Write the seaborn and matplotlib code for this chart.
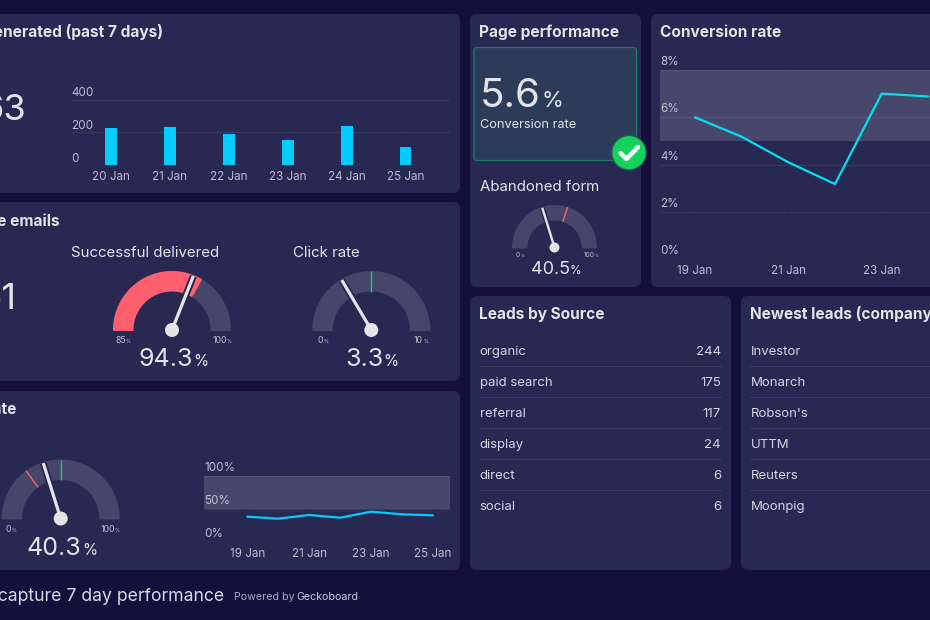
import numpy as np
import pandas as pd
import matplotlib
matplotlib.use("Agg")
import matplotlib.pyplot as plt
from matplotlib.patches import FancyBboxPatch, Circle
import seaborn as sns

# ---- data ----
lead_days = ["20 Jan", "21 Jan", "22 Jan", "23 Jan", "24 Jan", "25 Jan"]
lead_counts = [229, 235, 189, 153, 238, 112]

conv_days = ["19 Jan", "20 Jan", "21 Jan", "22 Jan", "23 Jan", "24 Jan"]
conv_values = [6.0, 5.18, 4.1, 3.18, 7.0, 6.88]

open_days = ["19 Jan", "20 Jan", "21 Jan", "22 Jan", "23 Jan", "24 Jan", "25 Jan"]
open_values = [38.8, 35.8, 41.4, 37.3, 46.4, 42.4, 40.9]

source_names = ["organic", "paid search", "referral", "display", "direct", "social"]
source_counts = [244, 175, 117, 24, 6, 6]
company_names = ["Investor", "Monarch", "Robson's", "UTTM", "Reuters", "Moonpig"]

delivered = dict(value=94.3, low=85, high=100, red_to=95)
click_rate = dict(value=3.3, low=0, high=10, green_at=5)
open_rate = dict(value=40.3, low=0, high=100, red_at=30, green_at=50)
abandoned = dict(value=40.5, low=0, high=100, red_at=60)

# ---- palette ----
BG = "#150F3C"
PANEL = "#282952"
TRACK = "#45466A"
TEXT = "#E2E2EA"
MUTED = "#BDBDCF"
RED = "#FF5F6E"
GREEN = "#12D35A"
CYAN = "#00CCFF"
TEAL = "#00E1F2"

sns.set_theme(style="white")
plt.rcParams["font.family"] = ["Inter", "DejaVu Sans"]

W, H = 930, 620
fig = plt.figure(figsize=(W / 100, H / 100), dpi=100, facecolor=BG)
page = fig.add_axes([0, 0, 1, 1])
page.set_xlim(0, W)
page.set_ylim(H, 0)
page.axis("off")


def panel(x0, y0, x1, y1, fc=PANEL, ec="none", r=7, lw=0):
    page.add_patch(FancyBboxPatch((x0 + r, y0 + r), x1 - x0 - 2 * r, y1 - y0 - 2 * r,
                                  boxstyle=f"round,pad={r},rounding_size={r}",
                                  fc=fc, ec=ec, lw=lw, zorder=1))


def label(x, y, s, size, color=TEXT, ha="left", weight="normal"):
    # y is the visual middle of the capitals, so rows stay level whatever the letters
    return page.text(x, y + size * 0.5, s, fontsize=size, color=color, ha=ha, va="baseline",
                     weight=weight, zorder=6)


def with_unit(x, y, number, size, unit_size, color=TEXT, ha="center"):
    # a number followed by a smaller percent sign, placed as one unit
    rend = fig.canvas.get_renderer()
    a = label(x, y, number, size, color)
    b = label(x, y, "%", unit_size, color)
    wa = a.get_window_extent(rend).width
    wb = b.get_window_extent(rend).width
    gap = size * 0.02
    left = x - (wa + gap + wb) / 2 if ha == "center" else x
    base = y + size * 0.5
    a.set_position((left, base))
    b.set_position((left + wa + gap, base))


def chart_axes(x0, y0, x1, y1):
    return fig.add_axes([x0 / W, 1 - y1 / H, (x1 - x0) / W, (y1 - y0) / H],
                        facecolor="none", zorder=3)


def style_chart(ax, yticks, ylabels, tick_pos, tick_labels, xlim, ylim, size=8.4, lift=8):
    ax.set_xlim(*xlim)
    ax.set_ylim(*ylim)
    ax.set_xlabel("")
    ax.set_ylabel("")
    sns.despine(ax=ax, left=True, bottom=True, top=True, right=True)
    ax.hlines(yticks, *xlim, color="#FFFFFF", alpha=0.07, lw=1.0, zorder=1)
    ax.vlines(tick_pos, *ylim, color=PANEL, lw=0.9, zorder=1.5)
    ax.set_yticks([])
    ax.set_xticks(tick_pos)
    ax.set_xticklabels(tick_labels, fontsize=size, color=MUTED)
    ax.tick_params(axis="x", length=0, pad=4.3)
    for v, s in zip(yticks, ylabels):
        ax.annotate(s, (0, v), xycoords=ax.get_yaxis_transform(), xytext=(0, lift),
                    textcoords="offset pixels", fontsize=size, color=MUTED,
                    ha="left", va="center", zorder=6, annotation_clip=False)


def gauge(cx, cy, ro, ri, spec, hub, lw_needle, marks=(), fill=None):
    lo, hi = spec["low"], spec["high"]
    ang = lambda v: np.pi * (1 - (v - lo) / (hi - lo))

    def band(v0, v1, color):
        # annular sector, slightly inset so the round join gives soft corners
        t = np.linspace(ang(v0), ang(v1), 90)
        xs = np.r_[cx + (ro - 1) * np.cos(t), cx + (ri + 1) * np.cos(t[::-1])]
        ys = np.r_[cy - (ro - 1) * np.sin(t), cy - (ri + 1) * np.sin(t[::-1])]
        page.fill(xs, ys, fc=color, ec=color, lw=1.4, joinstyle="round", zorder=2)

    band(lo, hi, TRACK)
    if fill is not None:
        band(lo, fill, RED)
    for v, color in marks:
        a = ang(v)
        page.plot([cx + ri * np.cos(a), cx + ro * np.cos(a)],
                  [cy - ri * np.sin(a), cy - ro * np.sin(a)],
                  color=color, lw=1.0, zorder=2.5, solid_capstyle="butt")
    a = ang(spec["value"])
    tip = (cx + (ro - 1) * np.cos(a), cy - (ro - 1) * np.sin(a))
    page.plot([cx, tip[0]], [cy, tip[1]], color=PANEL, lw=lw_needle * 2.2, zorder=2.8,
              solid_capstyle="butt")
    page.plot([cx, tip[0]], [cy, tip[1]], color="#E4E4E8", lw=lw_needle, zorder=3,
              solid_capstyle="butt")
    page.add_patch(Circle((cx, cy), hub, fc="#E4E4E8", ec="none", zorder=3.2))


# ---- panels ----
panel(-12, 14, 460, 193)
panel(-12, 202, 460, 381)
panel(-12, 391, 460, 570)
panel(470, 14, 641, 287)
panel(651, 14, 945, 287)
panel(470, 296, 731, 570)
panel(741, 296, 945, 570)

TITLE = 11.1
SUBTITLE = 10.8

# ---- leads generated ----
label(163, 31, "Leads generated (past 7 days)", TITLE, ha="right", weight="bold")
label(27, 107.5, "63", 26, ha="right")
ax = chart_axes(71, 99.5, 450, 165)
sns.barplot(x=lead_days, y=lead_counts, color=CYAN, saturation=1, width=0.2, ax=ax, zorder=2,
            linewidth=0)
style_chart(ax, [0, 200, 400], ["0", "200", "400"], range(len(lead_days)), lead_days,
            (-0.68, 5.755), (0, 400), lift=6)

# ---- welcome emails ----
label(59.5, 220, "Welcome emails", TITLE, ha="right", weight="bold")
label(17, 296, "61", 26, ha="right")
label(71, 252, "Successful delivered", SUBTITLE)
label(293, 252, "Click rate", SUBTITLE)
gauge(172, 330, 59, 38.5, delivered, 7, 2.3, fill=delivered["red_to"])
gauge(371.3, 330, 59, 38.5, click_rate, 7, 2.3, marks=[(click_rate["green_at"], GREEN)])
with_unit(123, 340, "85", 6.3, 3.6, MUTED)
with_unit(222, 340, "100", 6.3, 3.6, MUTED)
with_unit(323, 340, "0", 6.3, 3.6, MUTED)
with_unit(421, 340, "10", 6.3, 3.6, MUTED)
with_unit(173, 357.5, f"{delivered['value']}", 18, 11)
with_unit(372, 357.5, f"{click_rate['value']}", 18, 11)

# ---- open rate ----
label(16, 408, "Open rate", TITLE, ha="right", weight="bold")
gauge(60.7, 518.5, 59, 38.5, open_rate, 7, 2.3,
      marks=[(open_rate["red_at"], RED), (open_rate["green_at"], GREEN)])
with_unit(11, 528.7, "0", 6.3, 3.6, MUTED)
with_unit(110, 528.7, "100", 6.3, 3.6, MUTED)
with_unit(62, 546, f"{open_rate['value']}", 18, 11)
ax = chart_axes(204, 476.3, 450, 542.3)
sns.lineplot(x=np.arange(len(open_days)), y=open_values, color=CYAN, lw=1.6, ax=ax, zorder=4)
ax.axhspan(50, 100, color="white", alpha=0.14, lw=0, zorder=2)
style_chart(ax, [0, 50, 100], ["0%", "50%", "100%"], range(0, 7, 2), open_days[::2],
            (-1.4, 6.55), (0, 100))

# ---- page performance ----
label(479, 31, "Page performance", TITLE, weight="bold")
panel(474, 47.5, 636.5, 160.5, fc="#2C3C58", ec="#1E7C62", r=3, lw=0.9)
with_unit(480, 92.5, "5.6", 29, 16, ha="left")
label(480, 123.5, "Conversion rate", 9.2)
page.add_patch(Circle((629, 152.7), 17.3, fc=GREEN, ec="#3A4A5E", lw=1.0, zorder=5))
page.plot([620.5, 626.5, 638], [153, 159, 147], color="white", lw=3.2, zorder=5.5,
          solid_capstyle="round", solid_joinstyle="round")
label(480, 186, "Abandoned form", SUBTITLE)
gauge(554.5, 247.5, 42.5, 27, abandoned, 5, 1.7, marks=[(abandoned["red_at"], RED)])
with_unit(520, 254.5, "0", 4.8, 2.9, MUTED)
with_unit(591, 254.5, "100", 4.8, 2.9, MUTED)
with_unit(556, 267.5, f"{abandoned['value']}", 13, 8.5)

# ---- conversion rate ----
label(660, 31, "Conversion rate", TITLE, weight="bold")
ax = chart_axes(660, 70, 930, 259.3)
sns.lineplot(x=np.arange(len(conv_days)), y=conv_values, color=TEAL, lw=1.6, ax=ax, zorder=4)
ax.axhspan(5, 8, color="white", alpha=0.14, lw=0, zorder=2)
style_chart(ax, [0, 2, 4, 6, 8], ["0%", "2%", "4%", "6%", "8%"], range(0, 6, 2), conv_days[::2],
            (-0.75, 5.035), (0, 8))

# ---- tables ----
label(479, 313, "Leads by Source", TITLE, weight="bold")
label(750, 313, "Newest leads (company)", TITLE, weight="bold")
rows = np.arange(6) * 31 + 350.5
for y, name, count, company in zip(rows, source_names, source_counts, company_names):
    label(479.5, y, name, 9.5, color="#D4D4E0")
    label(721, y, str(count), 9.5, color="#D4D4E0", ha="right")
    label(750.5, y, company, 9.5, color="#D4D4E0")
for y in rows[:-1] + 15.8:
    page.plot([479, 721], [y, y], color="#3A3B62", lw=0.8, zorder=2)
    page.plot([750, 940], [y, y], color="#3A3B62", lw=0.8, zorder=2)

# ---- footer ----
label(224.5, 594.5, "Lead capture 7 day performance", 12.7, color="#D8D8E4", ha="right")
label(234, 596, "Powered by", 7.7, color="#A8A8BE")
label(296, 596, "Geckoboard", 7.7, color="#CCCCDA")

fig.savefig("out.png", dpi=100, facecolor=BG)
